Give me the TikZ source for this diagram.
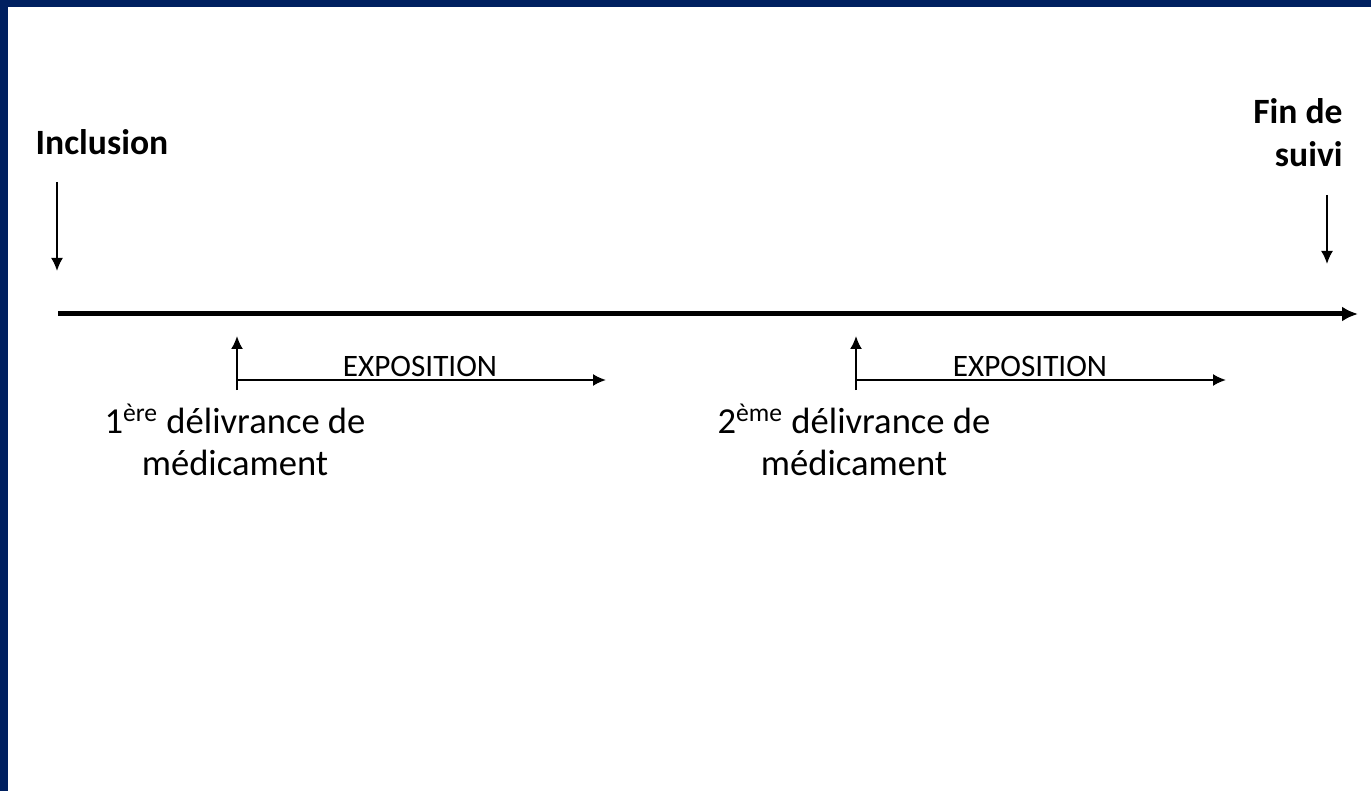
\documentclass[tikz,border=0pt]{standalone}
\usepackage{fontspec}
\setmainfont{Carlito}
\usetikzlibrary{arrows.meta}
\definecolor{navy}{HTML}{002060}
\tikzset{
  axisline/.style={black,-{Latex[length=8pt,width=7.5pt]},line width=2.5pt},
  thinarrow/.style={black,-{Latex[length=6.5pt,width=6pt]},line width=1pt},
  bigbold/.style={font=\fontsize{17.8}{21.5}\selectfont\bfseries,inner sep=0pt},
  deliv/.style={font=\fontsize{18.3}{21}\selectfont,align=center,inner sep=0pt},
  expo/.style={font=\fontsize{15.6}{18}\selectfont,inner sep=0pt}
}
\begin{document}
\begin{tikzpicture}[x=0.5pt,y=-0.5pt]
   \fill[navy] (0,0) rectangle (1371,791);
   \fill[white] (8,7) rectangle (1371,791);
   \useasboundingbox (0,0) rectangle (1371,791);
   % labels
   \node[bigbold] (incl) at (102,142) {Inclusion};
   \node[bigbold,align=right,anchor=east] (fin) at (1343,133) {Fin de\\suivi};
   \node[deliv] (firstdel) at (235,440) {1\textsuperscript{ère} délivrance de\\médicament};
   \node[deliv] (seconddel) at (854,440) {2\textsuperscript{ème} délivrance de\\médicament};
   \node[expo] (expoone) at (420,366) {EXPOSITION};
   \node[expo] (expotwo) at (1030,366) {EXPOSITION};
   % points
   \coordinate (inclA) at (57,182);
   \coordinate (inclB) at (57,271);
   \coordinate (finA) at (1327,195);
   \coordinate (finB) at (1327,264);
   \coordinate (start) at (58,314);
   \coordinate (end) at (1358,314);
   \coordinate (delA) at (237,390);
   \coordinate (delB) at (237,336);
   \coordinate (expoA) at (237,380);
   \coordinate (expoB) at (606,380);
   \coordinate (delC) at (856,390);
   \coordinate (delD) at (856,336);
   \coordinate (expoC) at (856,380);
   \coordinate (expoD) at (1226,380);
   % arrows
   \draw[axisline] (start)--(end);
   \draw[thinarrow] (inclA)--(inclB);
   \draw[thinarrow] (finA)--(finB);
   \draw[thinarrow] (delA)--(delB);
   \draw[thinarrow] (expoA)--(expoB);
   \draw[thinarrow] (delC)--(delD);
   \draw[thinarrow] (expoC)--(expoD);
\end{tikzpicture}
\end{document}
